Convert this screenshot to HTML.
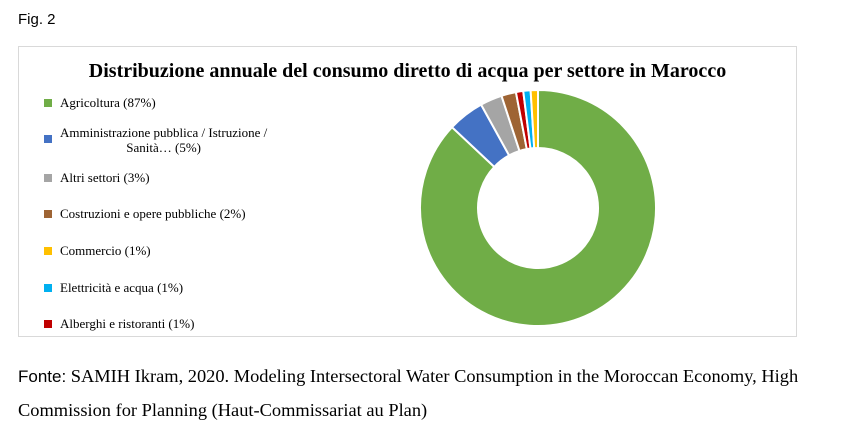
<!DOCTYPE html>
<html><head><meta charset="utf-8"><style>
body{margin:0;width:850px;height:439px;background:#fff;position:relative;overflow:hidden;font-family:"Liberation Serif",serif;}
.fig{position:absolute;left:18px;top:11px;font-family:"Liberation Sans",sans-serif;font-size:15px;color:#000;}
.box{position:absolute;left:18px;top:46px;width:779px;height:291px;border:1px solid #d9d9d9;box-sizing:border-box;}
.title{position:absolute;left:0;top:60px;width:815px;text-align:center;font-weight:bold;font-size:20px;}
.leg{position:absolute;left:44px;font-size:13px;color:#000;}
.sq{position:absolute;left:0;width:8px;height:8px;}
.lt{position:absolute;left:16px;white-space:nowrap;}
.src{position:absolute;left:18px;font-size:18.4px;white-space:nowrap;}
</style></head><body>
<div class="fig">Fig. 2</div>
<div class="box"></div>
<div class="title">Distribuzione annuale del consumo diretto di acqua per settore in Marocco</div>

<div class="leg" style="top:95px"><div class="sq" style="top:4px;background:#70ad47"></div><div class="lt">Agricoltura (87%)</div></div>
<div class="leg" style="top:125px"><div class="sq" style="top:10px;background:#4472c4"></div><div class="lt" style="text-align:center;line-height:15px;top:0">Amministrazione pubblica / Istruzione /<br>Sanità… (5%)</div></div>
<div class="leg" style="top:170px"><div class="sq" style="top:4px;background:#a5a5a5"></div><div class="lt">Altri settori (3%)</div></div>
<div class="leg" style="top:206px"><div class="sq" style="top:4px;background:#9e6434"></div><div class="lt">Costruzioni e opere pubbliche (2%)</div></div>
<div class="leg" style="top:243px"><div class="sq" style="top:4px;background:#ffc000"></div><div class="lt">Commercio (1%)</div></div>
<div class="leg" style="top:280px"><div class="sq" style="top:4px;background:#00b0f0"></div><div class="lt">Elettricità e acqua (1%)</div></div>
<div class="leg" style="top:316px"><div class="sq" style="top:4px;background:#c00000"></div><div class="lt">Alberghi e ristoranti (1%)</div></div>

<svg style="position:absolute;left:0;top:0" width="850" height="439">
<g stroke="#fff" stroke-width="2" stroke-linejoin="round">
<path fill="#70ad47" d="M538,90 A118,118 0 1 1 452.0,127.2 L494.3,166.9 A60,60 0 1 0 538,148 Z"/>
<path fill="#4472c4" d="M452.0,127.2 A118,118 0 0 1 481.1,104.6 L509.1,155.4 A60,60 0 0 0 494.3,166.9 Z"/>
<path fill="#a5a5a5" d="M481.1,104.6 A118,118 0 0 1 501.5,95.8 L519.5,150.9 A60,60 0 0 0 509.1,155.4 Z"/>
<path fill="#9e6434" d="M501.5,95.8 A118,118 0 0 1 515.9,92.1 L526.8,149.1 A60,60 0 0 0 519.5,150.9 Z"/>
<path fill="#c00000" d="M515.9,92.1 A118,118 0 0 1 523.2,90.9 L530.5,148.5 A60,60 0 0 0 526.8,149.1 Z"/>
<path fill="#00b0f0" d="M523.2,90.9 A118,118 0 0 1 530.6,90.2 L534.2,148.1 A60,60 0 0 0 530.5,148.5 Z"/>
<path fill="#ffc000" d="M530.6,90.2 A118,118 0 0 1 538,90 L538,148 A60,60 0 0 0 534.2,148.1 Z"/>
</g>
</svg>

<div class="src" style="top:366px"><span style="font-family:'Liberation Sans',sans-serif;font-size:17px">Fonte:</span> SAMIH Ikram, 2020. Modeling Intersectoral Water Consumption in the Moroccan Economy, High</div>
<div class="src" style="top:400px">Commission for Planning (Haut-Commissariat au Plan)</div>
</body></html>
